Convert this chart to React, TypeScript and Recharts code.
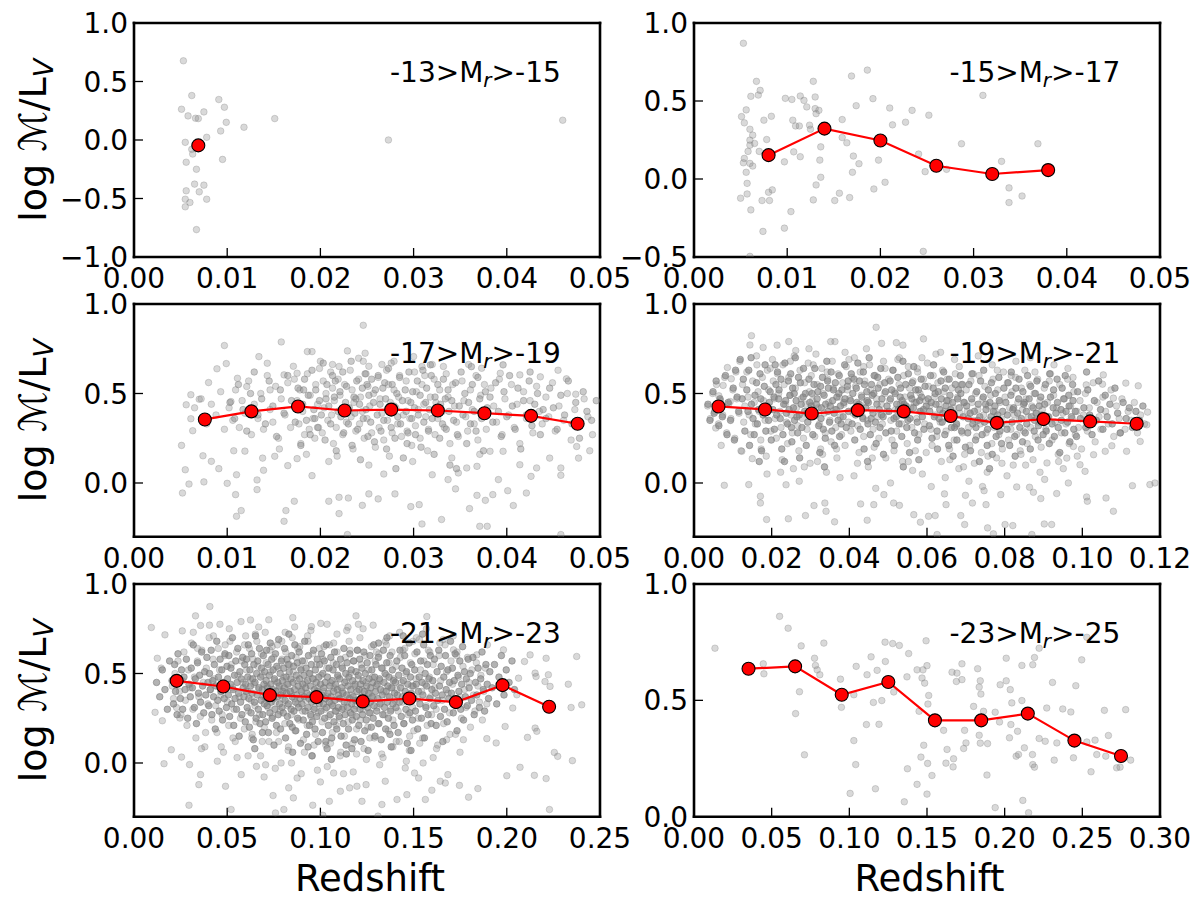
import React from 'react';
import { ScatterChart, Scatter, XAxis, YAxis } from 'recharts';

type Pt = [number, number];

const FONT = '"DejaVu Sans", Verdana, sans-serif';

// ---------- tick labels ----------
const xTicks05 = [0, 0.01, 0.02, 0.03, 0.04, 0.05];
const xTicks12 = [0, 0.02, 0.04, 0.06, 0.08, 0.1, 0.12];
const xTicks25 = [0, 0.05, 0.1, 0.15, 0.2, 0.25];
const xTicks30 = [0, 0.05, 0.1, 0.15, 0.2, 0.25, 0.3];
const yTicksA = [-1, -0.5, 0, 0.5, 1];
const yTicksB = [-0.5, 0, 0.5, 1];
const yTicksC = [0, 0.5, 1];

const panelLabels = ['-13>M|r|>-15', '-15>M|r|>-17', '-17>M|r|>-19', '-19>M|r|>-21', '-21>M|r|>-23', '-23>M|r|>-25'];

// ---------- median (red) values ----------
const tlMed: Pt[] = [[0.0069, -0.046]];
const trMed: Pt[] = [[0.008, 0.153], [0.014, 0.323], [0.02, 0.247], [0.026, 0.085], [0.032, 0.032], [0.038, 0.057]];
const mlMed: Pt[] = [[0.0076, 0.355], [0.0126, 0.4], [0.0176, 0.4275], [0.0226, 0.405], [0.0276, 0.41], [0.0326, 0.405], [0.0376, 0.39], [0.0426, 0.375], [0.0476, 0.331]];
const mrMed: Pt[] = [[0.0063, 0.4275], [0.0183, 0.411], [0.0303, 0.388], [0.0422, 0.407], [0.054, 0.4], [0.0661, 0.374], [0.078, 0.336], [0.09, 0.357], [0.102, 0.344], [0.114, 0.331]];
const blMed: Pt[] = [[0.0229, 0.459], [0.0479, 0.4275], [0.0729, 0.379], [0.0979, 0.368], [0.1227, 0.344], [0.1477, 0.36], [0.1727, 0.34], [0.1977, 0.435], [0.2227, 0.314]];
const brMed: Pt[] = [[0.0351, 0.636], [0.0651, 0.646], [0.0951, 0.524], [0.1251, 0.579], [0.1551, 0.414], [0.1849, 0.414], [0.2149, 0.443], [0.2449, 0.327], [0.2749, 0.261]];

// ---------- individual galaxies (grey) ----------
const tlGrey: Pt[] = [
  [0.0053, 0.677], [0.0062, 0.38], [0.0051, 0.263], [0.0058, 0.206], [0.0066, 0.186], [0.0069, 0.183], [0.0075, 0.24], [0.0091, 0.346],
  [0.0097, 0.28], [0.0099, 0.151], [0.0093, 0.077], [0.0078, 0.023], [0.0118, 0.109], [0.0151, 0.183], [0.0055, -0.02], [0.0062, -0.08],
  [0.0063, -0.12], [0.0056, -0.19], [0.0067, -0.25], [0.0095, -0.166], [0.0065, -0.377], [0.0075, -0.386], [0.007, -0.443], [0.0056, -0.434],
  [0.0055, -0.506], [0.006, -0.534], [0.0055, -0.571], [0.0078, -0.506], [0.0067, -0.766], [0.0273, 0.0], [0.046, 0.169],
];
const tlCore: Pt[] = [];

const trGrey: Pt[] = [
  [0.0053, 0.87], [0.0067, 0.626], [0.0071, 0.568], [0.0069, 0.538], [0.0061, 0.53], [0.0056, 0.443], [0.0051, 0.4], [0.0054, 0.36],
  [0.006, 0.319], [0.0063, 0.281], [0.006, 0.249], [0.006, 0.217], [0.0065, 0.228], [0.0058, 0.177], [0.007, 0.177], [0.0054, 0.132],
  [0.0053, 0.104], [0.006, 0.1], [0.0063, 0.083], [0.0056, 0.043], [0.0057, -0.028], [0.0057, -0.096], [0.005, -0.123], [0.0073, -0.138],
  [0.0081, -0.138], [0.008, -0.085], [0.0084, -0.07], [0.0061, -0.198], [0.0074, -0.336], [0.006, -0.496], [0.0075, 0.377], [0.0083, 0.402],
  [0.0078, 0.253], [0.0097, 0.11], [0.0098, 0.517], [0.0105, 0.51], [0.0106, 0.377], [0.0109, 0.34], [0.0113, 0.34], [0.0107, 0.174],
  [0.0114, 0.143], [0.0114, 0.532], [0.0118, 0.504], [0.0121, 0.462], [0.0128, 0.626], [0.013, 0.526], [0.013, 0.451], [0.0134, 0.44],
  [0.0124, 0.345], [0.0125, 0.319], [0.0131, 0.419], [0.0136, 0.206], [0.0135, 0.121], [0.0136, 0.011], [0.0131, -0.038], [0.0128, -0.134],
  [0.0104, -0.209], [0.0097, -0.315], [0.0151, -0.138], [0.0156, -0.091], [0.0167, -0.119], [0.017, 0.043], [0.0171, 0.147], [0.0177, 0.098],
  [0.0164, 0.232], [0.0159, 0.266], [0.0159, 0.381], [0.0169, 0.66], [0.0186, 0.698], [0.0174, 0.47], [0.0192, 0.515], [0.021, 0.455],
  [0.0213, 0.347], [0.0227, 0.364], [0.0234, 0.44], [0.0252, 0.409], [0.0198, 0.121], [0.0205, -0.021], [0.0193, -0.064], [0.0241, 0.16],
  [0.0248, 0.047], [0.0271, 0.062], [0.0287, 0.226], [0.031, 0.536], [0.033, 0.113], [0.0338, -0.057], [0.0338, -0.151], [0.0352, -0.109],
  [0.0369, 0.226], [0.0246, -0.464],
];
const trCore: Pt[] = [];

const mlGrey: Pt[] = [
  [0.0246, 0.881], [0.0158, 0.788], [0.0097, 0.768], [0.0099, 0.667], [0.0089, 0.638], [0.008, 0.561], [0.0061, 0.493], [0.0056, 0.437],
  [0.007, 0.468], [0.0061, 0.359], [0.0063, 0.292], [0.0051, 0.21], [0.0055, 0.074], [0.0059, -0.006], [0.0052, -0.056], [0.0074, 0.152],
  [0.0075, 0.006], [0.0083, 0.121], [0.0091, 0.08], [0.01, -0.002], [0.0109, -0.065], [0.0115, -0.154], [0.011, -0.186], [0.0107, 0.18],
  [0.011, 0.046], [0.0119, 0.178], [0.0132, -0.037], [0.0132, 0.017], [0.0139, 0.071], [0.0138, 0.139], [0.0151, 0.149], [0.0161, -0.214],
  [0.0163, -0.154], [0.0172, -0.102], [0.0165, 0.097], [0.0175, 0.136], [0.0191, 0.041], [0.0209, -0.102], [0.022, -0.08], [0.023, -0.084],
  [0.022, -0.171], [0.0229, -0.288], [0.0245, -0.125], [0.0252, -0.061], [0.0262, -0.089], [0.028, -0.061], [0.0297, -0.132], [0.0306, -0.121],
  [0.0309, -0.229], [0.033, -0.204], [0.036, -0.143], [0.0371, -0.242], [0.0379, -0.242], [0.0368, -0.069], [0.0377, -0.097], [0.0385, -0.065],
  [0.0407, -0.126], [0.0401, -0.043], [0.0421, -0.056], [0.0426, 0.037], [0.0458, 0.043], [0.0458, -0.288], [0.0458, 0.084], [0.0477, 0.139],
  [0.0489, 0.18], [0.0474, 0.496], [0.0464, 0.582], [0.0455, 0.63], [0.0436, 0.593], [0.0414, 0.604], [0.0475, 0.204], [0.0446, 0.139],
  [0.0432, 0.084], [0.0414, 0.102], [0.0391, 0.019], [0.0345, -0.033], [0.0337, 0.019], [0.032, 0.046], [0.0348, 0.056], [0.0357, 0.084],
  [0.0368, 0.093], [0.0382, 0.177], [0.0396, 0.177], [0.0186, 0.734], [0.0191, 0.734], [0.0229, 0.738], [0.0248, 0.725], [0.0241, 0.697],
  [0.02, 0.68], [0.0213, 0.662], [0.022, 0.651], [0.0252, 0.652], [0.0266, 0.662], [0.0279, 0.68], [0.03, 0.706], [0.0309, 0.651],
  [0.032, 0.662], [0.0332, 0.651], [0.0359, 0.662], [0.0373, 0.641], [0.0393, 0.613], [0.0134, 0.706], [0.0143, 0.669], [0.0161, 0.604],
  [0.0171, 0.652], [0.0175, 0.613], [0.0111, 0.585], [0.0121, 0.539], [0.0146, 0.52], [0.0104, 0.455],
  [0.0172, 0.58], [0.0178, 0.52], [0.0175, 0.46], [0.0181, 0.4], [0.0177, 0.33], [0.0183, 0.27], [0.0179, 0.22], [0.0186, 0.61],
  [0.0189, 0.49], [0.0192, 0.36], [0.0188, 0.3], [0.0195, 0.55], [0.0197, 0.44], [0.0194, 0.25], [0.0199, 0.64], [0.0185, 0.16], [0.0198, 0.31],
  [0.0203, 0.57], [0.0206, 0.5], [0.0204, 0.42], [0.0208, 0.35], [0.0202, 0.28], [0.0211, 0.62], [0.0213, 0.53], [0.0215, 0.46],
  [0.0212, 0.38], [0.0217, 0.31], [0.0214, 0.22], [0.0219, 0.58], [0.0221, 0.49], [0.0223, 0.41], [0.0218, 0.15], [0.0226, 0.55],
  [0.0228, 0.34], [0.0224, 0.27], [0.0209, 0.12], [0.0232, 0.63], [0.0234, 0.52], [0.0236, 0.45], [0.0233, 0.37], [0.0238, 0.29],
  [0.0235, 0.19], [0.0241, 0.58], [0.0243, 0.48], [0.0245, 0.4], [0.0242, 0.33], [0.0247, 0.25], [0.0249, 0.61], [0.0251, 0.54],
  [0.0253, 0.43], [0.025, 0.36], [0.0255, 0.28], [0.0252, 0.1], [0.0257, 0.5], [0.0259, 0.2], [0.0246, 0.68], [0.0262, 0.59],
  [0.0264, 0.47], [0.0266, 0.39], [0.0263, 0.31], [0.0268, 0.24], [0.0271, 0.63], [0.0273, 0.55], [0.0275, 0.45], [0.0272, 0.35],
  [0.0277, 0.28], [0.0274, 0.15], [0.0279, 0.52], [0.0281, 0.42], [0.0283, 0.33], [0.0285, 0.6], [0.0287, 0.26], [0.0284, 0.48],
  [0.0289, 0.38], [0.0276, 0.67], [0.0268, 0.05], [0.0292, 0.57], [0.0294, 0.46], [0.0296, 0.36], [0.0293, 0.29], [0.0298, 0.21],
  [0.0301, 0.62], [0.0303, 0.51], [0.0305, 0.41], [0.0302, 0.32], [0.0307, 0.25], [0.0309, 0.55], [0.0311, 0.44], [0.0313, 0.37],
  [0.0315, 0.18], [0.0312, 0.6], [0.0318, 0.48], [0.0316, 0.3], [0.0299, 0.12], [0.0322, 0.58], [0.0324, 0.45], [0.0326, 0.36],
  [0.0323, 0.27], [0.0328, 0.52], [0.0331, 0.4], [0.0333, 0.31], [0.0335, 0.61], [0.0337, 0.48], [0.0339, 0.22], [0.0342, 0.55],
  [0.0344, 0.43], [0.0346, 0.34], [0.0341, 0.14], [0.0348, 0.26], [0.0352, 0.57], [0.0354, 0.46], [0.0356, 0.37], [0.0358, 0.29],
  [0.0361, 0.52], [0.0363, 0.41], [0.0365, 0.33], [0.0367, 0.6], [0.0369, 0.24], [0.0372, 0.49], [0.0374, 0.38], [0.0376, 0.55],
  [0.0378, 0.3], [0.0371, 0.16], [0.0383, 0.53], [0.0386, 0.43], [0.0389, 0.34], [0.0392, 0.58], [0.0395, 0.27], [0.0398, 0.47],
  [0.0402, 0.38], [0.0405, 0.55], [0.0408, 0.31], [0.0411, 0.44], [0.0414, 0.22], [0.0418, 0.51], [0.0421, 0.36], [0.0425, 0.46],
  [0.0428, 0.28], [0.0432, 0.54], [0.0435, 0.4], [0.0438, 0.33], [0.0442, 0.48], [0.0445, 0.37], [0.0449, 0.56], [0.0452, 0.29],
  [0.0456, 0.43], [0.0461, 0.35], [0.0465, 0.5], [0.0469, 0.24], [0.0473, 0.41], [0.0478, 0.32], [0.0483, 0.47], [0.0487, 0.37],
  [0.0492, 0.27], [0.0102, 0.42], [0.0106, 0.35], [0.0109, 0.52], [0.0113, 0.31], [0.0116, 0.46], [0.0119, 0.39], [0.0123, 0.57],
  [0.0126, 0.27], [0.0129, 0.44], [0.0133, 0.36], [0.0136, 0.5], [0.0139, 0.3], [0.0143, 0.6], [0.0146, 0.41], [0.0149, 0.34],
  [0.0152, 0.54], [0.0155, 0.25], [0.0158, 0.47], [0.0162, 0.38], [0.0165, 0.56], [0.0168, 0.31], [0.0156, 0.19], [0.0065, 0.42],
  [0.0072, 0.47], [0.0078, 0.33], [0.0083, 0.44], [0.0088, 0.38], [0.0093, 0.51], [0.0097, 0.3],
];

const mlCore: Pt[] = [
  [0.0103, 0.45], [0.0108, 0.36], [0.0112, 0.55], [0.0117, 0.41], [0.0121, 0.29], [0.0125, 0.5], [0.0129, 0.62], [0.0133, 0.38],
  [0.0137, 0.47], [0.0141, 0.33], [0.0145, 0.57], [0.0149, 0.43], [0.0153, 0.26], [0.0157, 0.52], [0.0161, 0.39], [0.0165, 0.6],
  [0.0169, 0.46], [0.0173, 0.34], [0.0176, 0.53], [0.0179, 0.21], [0.0181, 0.44], [0.0183, 0.58], [0.0185, 0.35], [0.0187, 0.49],
  [0.0189, 0.27], [0.0191, 0.63], [0.0193, 0.41], [0.0195, 0.52], [0.0197, 0.31], [0.0199, 0.46], [0.0201, 0.38], [0.0203, 0.67],
  [0.0205, 0.24], [0.0207, 0.55], [0.0209, 0.43], [0.0211, 0.33], [0.0213, 0.6], [0.0215, 0.48], [0.0217, 0.18], [0.0219, 0.4],
  [0.0182, 0.52], [0.0194, 0.36], [0.0206, 0.47], [0.0216, 0.57], [0.0221, 0.51], [0.0222, 0.37], [0.0224, 0.62], [0.0225, 0.28],
  [0.0227, 0.45], [0.0228, 0.54], [0.023, 0.33], [0.0231, 0.42], [0.0233, 0.68], [0.0234, 0.21], [0.0236, 0.48], [0.0237, 0.39],
  [0.0239, 0.57], [0.024, 0.3], [0.0242, 0.44], [0.0243, 0.13], [0.0245, 0.53], [0.0246, 0.36], [0.0248, 0.61], [0.0249, 0.41],
  [0.0251, 0.26], [0.0252, 0.49], [0.0254, 0.34], [0.0255, 0.58], [0.0257, 0.45], [0.0258, 0.23], [0.0259, 0.52], [0.0226, 0.4],
  [0.0238, 0.47], [0.025, 0.55], [0.0261, 0.38], [0.0262, 0.6], [0.0264, 0.44], [0.0265, 0.29], [0.0267, 0.53], [0.0268, 0.35],
  [0.027, 0.47], [0.0271, 0.19], [0.0273, 0.64], [0.0274, 0.41], [0.0276, 0.31], [0.0277, 0.55], [0.0279, 0.43], [0.028, 0.25],
  [0.0282, 0.5], [0.0283, 0.37], [0.0285, 0.59], [0.0286, 0.33], [0.0288, 0.46], [0.0289, 0.14], [0.0291, 0.52], [0.0292, 0.4],
  [0.0294, 0.28], [0.0295, 0.62], [0.0297, 0.45], [0.0298, 0.36], [0.0299, 0.51], [0.0269, 0.56], [0.0281, 0.08], [0.0293, 0.22],
  [0.0301, 0.42], [0.0302, 0.27], [0.0304, 0.57], [0.0305, 0.38], [0.0307, 0.49], [0.0308, 0.2], [0.031, 0.63], [0.0311, 0.34],
  [0.0313, 0.45], [0.0314, 0.53], [0.0316, 0.29], [0.0317, 0.41], [0.0319, 0.6], [0.032, 0.36], [0.0322, 0.16], [0.0323, 0.48],
  [0.0325, 0.39], [0.0326, 0.55], [0.0328, 0.25], [0.0329, 0.44], [0.0331, 0.33], [0.0332, 0.58], [0.0334, 0.47], [0.0335, 0.3],
  [0.0337, 0.52], [0.0338, 0.4], [0.0339, 0.1], [0.0318, 0.66], [0.0341, 0.46], [0.0343, 0.35], [0.0345, 0.56], [0.0347, 0.27],
  [0.0349, 0.43], [0.0351, 0.62], [0.0353, 0.38], [0.0355, 0.5], [0.0357, 0.22], [0.0359, 0.45], [0.0361, 0.33], [0.0363, 0.55],
  [0.0365, 0.4], [0.0367, 0.29], [0.0369, 0.59], [0.0371, 0.47], [0.0373, 0.36], [0.0375, 0.18], [0.0377, 0.51], [0.0379, 0.42],
  [0.0346, 0.08], [0.0362, 0.65], [0.0382, 0.48], [0.0385, 0.34], [0.0388, 0.56], [0.0391, 0.4], [0.0394, 0.26], [0.0397, 0.51],
  [0.04, 0.37], [0.0403, 0.6], [0.0406, 0.43], [0.0409, 0.3], [0.0412, 0.53], [0.0415, 0.19], [0.0418, 0.46], [0.0421, 0.38],
  [0.0424, 0.57], [0.0427, 0.32], [0.043, 0.44], [0.0433, 0.5], [0.0436, 0.27], [0.0439, 0.41], [0.0396, 0.66], [0.0425, 0.62],
  [0.0442, 0.36], [0.0446, 0.53], [0.045, 0.42], [0.0454, 0.3], [0.0458, 0.49], [0.0462, 0.38], [0.0466, 0.57], [0.047, 0.33],
  [0.0474, 0.45], [0.0478, 0.25], [0.0482, 0.51], [0.0486, 0.4], [0.0491, 0.35], [0.0496, 0.46],
];

const mrGrey: Pt[] = [
  [0.0469, 0.87], [0.0148, 0.823], [0.0144, 0.771], [0.0178, 0.757], [0.0244, 0.79], [0.0363, 0.79], [0.0521, 0.784], [0.0591, 0.805],
  [0.0086, 0.645], [0.0096, 0.582], [0.0075, 0.545], [0.0064, 0.487], [0.0093, 0.455], [0.0056, 0.307], [0.007, 0.21], [0.0078, -0.013],
  [0.0141, -0.009], [0.0123, 0.177], [0.015, 0.136], [0.0171, -0.074], [0.0171, -0.112], [0.0187, -0.204], [0.0243, -0.2], [0.0287, -0.182],
  [0.0309, -0.126], [0.0337, -0.112], [0.0362, -0.217], [0.034, -0.158], [0.0429, -0.117], [0.0446, -0.208], [0.0463, -0.121], [0.0489, -0.065],
  [0.0514, -0.112], [0.0529, -0.125], [0.0566, -0.177], [0.0583, -0.219], [0.0604, -0.186], [0.0621, -0.182], [0.0626, -0.288], [0.0645, -0.061],
  [0.0649, -0.121], [0.0687, -0.182], [0.0697, -0.232], [0.0699, -0.069], [0.0717, -0.112], [0.0747, -0.043], [0.0752, -0.121], [0.0756, -0.251],
  [0.0771, -0.284], [0.0801, -0.232], [0.0821, -0.238], [0.079, -0.065], [0.0831, -0.022], [0.0864, -0.024], [0.0874, -0.052], [0.0893, -0.087],
  [0.0902, -0.229], [0.0921, -0.232], [0.087, -0.288], [0.0934, -0.059], [0.0964, 0.0], [0.1011, -0.078], [0.1013, -0.102], [0.1061, -0.084],
  [0.108, -0.158], [0.1129, -0.015], [0.1174, -0.009], [0.1187, 0.0], [0.1168, 0.396], [0.1144, 0.543], [0.1112, 0.558], [0.1054, 0.604],
  [0.1052, 0.552], [0.101, 0.548], [0.108, 0.474], [0.1097, 0.279], [0.1114, 0.177], [0.1059, 0.177], [0.1076, 0.208], [0.1166, 0.325],
  [0.1149, 0.232], [0.1007, 0.065], [0.0994, 0.102], [0.096, 0.139], [0.0909, 0.112], [0.0977, 0.204], [0.1029, 0.158],
  [0.0125, 0.55], [0.0131, 0.43], [0.0128, 0.34], [0.0136, 0.62], [0.0139, 0.48], [0.0142, 0.38], [0.0146, 0.27], [0.0151, 0.57],
  [0.0155, 0.45], [0.0158, 0.33], [0.0162, 0.66], [0.0165, 0.51], [0.0168, 0.4], [0.0172, 0.24], [0.0176, 0.59], [0.0179, 0.46],
  [0.0183, 0.35], [0.0186, 0.15], [0.0189, 0.63], [0.0192, 0.52], [0.0195, 0.41], [0.0198, 0.29], [0.0202, 0.69], [0.0204, 0.57],
  [0.0207, 0.47], [0.0209, 0.36], [0.0212, 0.25], [0.0215, 0.61], [0.0218, 0.5], [0.0221, 0.4], [0.0224, 0.31], [0.0227, 0.13],
  [0.0229, 0.66], [0.0232, 0.55], [0.0235, 0.44], [0.0238, 0.34], [0.0241, 0.22], [0.0244, 0.59], [0.0247, 0.49], [0.025, 0.38],
  [0.0253, 0.28], [0.0256, 0.08], [0.0258, 0.71], [0.0261, 0.53], [0.0264, 0.42], [0.0267, 0.32], [0.027, 0.18], [0.0273, 0.63],
  [0.0276, 0.47], [0.0279, 0.36], [0.0282, 0.25], [0.0285, 0.56], [0.0288, 0.44], [0.0291, 0.3], [0.0294, 0.67], [0.0297, 0.51],
  [0.0299, 0.11], [0.0302, 0.6], [0.0305, 0.46], [0.0308, 0.37], [0.0311, 0.26], [0.0314, 0.72], [0.0317, 0.55], [0.032, 0.42],
  [0.0323, 0.33], [0.0326, 0.19], [0.0329, 0.64], [0.0332, 0.5], [0.0335, 0.39], [0.0338, 0.28], [0.0341, 0.06], [0.0344, 0.58],
  [0.0347, 0.45], [0.035, 0.35], [0.0353, 0.23], [0.0356, 0.68], [0.0359, 0.53], [0.0362, 0.41], [0.0365, 0.31], [0.0368, 0.14],
  [0.0371, 0.61], [0.0374, 0.48], [0.0377, 0.37], [0.038, 0.27], [0.0383, 0.56], [0.0386, 0.44], [0.0389, 0.21], [0.0392, 0.65],
  [0.0395, 0.52], [0.0398, 0.34], [0.0401, 0.47], [0.0404, 0.29], [0.0407, 0.59], [0.041, 0.39], [0.0413, 0.7], [0.0416, 0.54],
  [0.0419, 0.43], [0.0422, 0.32], [0.0425, 0.17], [0.0428, 0.62], [0.0431, 0.49], [0.0434, 0.37], [0.0437, 0.26], [0.044, 0.57],
  [0.0443, 0.45], [0.0446, 0.35], [0.0449, 0.09], [0.0452, 0.66], [0.0455, 0.52], [0.0458, 0.41], [0.0461, 0.3], [0.0464, 0.2],
  [0.0467, 0.6], [0.047, 0.47], [0.0473, 0.37], [0.0476, 0.25], [0.0479, 0.55], [0.0482, 0.44], [0.0485, 0.33], [0.0488, 0.68],
  [0.0491, 0.5], [0.0494, 0.14], [0.0497, 0.4], [0.0501, 0.58], [0.0504, 0.46], [0.0507, 0.35], [0.051, 0.24], [0.0513, 0.63],
  [0.0516, 0.51], [0.0519, 0.41], [0.0522, 0.29], [0.0525, 0.69], [0.0528, 0.55], [0.0531, 0.44], [0.0534, 0.33], [0.0537, 0.12],
  [0.054, 0.6], [0.0543, 0.48], [0.0546, 0.38], [0.0549, 0.22], [0.0552, 0.65], [0.0555, 0.53], [0.0558, 0.42], [0.0561, 0.31],
  [0.0564, 0.57], [0.0567, 0.45], [0.057, 0.18], [0.0573, 0.36], [0.0576, 0.62], [0.0579, 0.27], [0.0582, 0.5], [0.0585, 0.4],
  [0.0588, 0.05], [0.0591, 0.58], [0.0594, 0.33], [0.0597, 0.46], [0.0601, 0.67], [0.0604, 0.54], [0.0607, 0.43], [0.061, 0.3],
  [0.0613, 0.21], [0.0616, 0.6], [0.0619, 0.48], [0.0622, 0.38], [0.0625, 0.26], [0.0628, 0.56], [0.0631, 0.44], [0.0634, 0.34],
  [0.0637, 0.12], [0.064, 0.63], [0.0643, 0.51], [0.0646, 0.4], [0.0649, 0.29], [0.0652, 0.58], [0.0655, 0.46], [0.0658, 0.19],
  [0.0661, 0.36], [0.0664, 0.53], [0.0667, 0.42], [0.067, 0.24], [0.0673, 0.61], [0.0676, 0.32], [0.0679, 0.48], [0.0682, 0.08],
  [0.0685, 0.39], [0.0688, 0.55], [0.0691, 0.28], [0.0694, 0.45], [0.0697, 0.16], [0.0701, 0.52], [0.0704, 0.4], [0.0707, 0.31],
  [0.071, 0.21], [0.0713, 0.57], [0.0716, 0.45], [0.0719, 0.35], [0.0722, 0.11], [0.0725, 0.5], [0.0728, 0.26], [0.0731, 0.41],
  [0.0734, 0.6], [0.0737, 0.33], [0.074, 0.17], [0.0743, 0.47], [0.0746, 0.38], [0.0749, 0.54], [0.0752, 0.28], [0.0755, 0.06],
  [0.0758, 0.43], [0.0761, 0.35], [0.0764, 0.49], [0.0767, 0.22], [0.077, 0.58], [0.0773, 0.31], [0.0776, 0.4], [0.0779, 0.14],
  [0.0782, 0.52], [0.0785, 0.27], [0.0788, 0.45], [0.0791, 0.36], [0.0794, 0.19], [0.0797, 0.62], [0.0801, 0.48], [0.0804, 0.33],
  [0.0807, 0.56], [0.081, 0.24], [0.0813, 0.42], [0.0816, 0.3], [0.0819, 0.51], [0.0822, 0.1], [0.0825, 0.38], [0.0828, 0.59],
  [0.0831, 0.27], [0.0834, 0.45], [0.0837, 0.35], [0.084, 0.18], [0.0843, 0.53], [0.0846, 0.41], [0.0849, 0.29], [0.0852, 0.63],
  [0.0855, 0.47], [0.0858, 0.22], [0.0861, 0.37], [0.0864, 0.55], [0.0867, 0.31], [0.087, 0.43], [0.0873, 0.13], [0.0876, 0.5],
  [0.0879, 0.26], [0.0882, 0.39], [0.0885, 0.58], [0.0888, 0.34], [0.0891, 0.46], [0.0894, 0.2], [0.0897, 0.41], [0.0902, 0.53],
  [0.0906, 0.3], [0.091, 0.45], [0.0914, 0.37], [0.0918, 0.61], [0.0922, 0.24], [0.0926, 0.49], [0.093, 0.34], [0.0934, 0.42],
  [0.0938, 0.16], [0.0942, 0.55], [0.0946, 0.28], [0.095, 0.39], [0.0954, 0.47], [0.0958, 0.33], [0.0962, 0.58], [0.0966, 0.22],
  [0.097, 0.43], [0.0974, 0.36], [0.0978, 0.51], [0.0982, 0.27], [0.0986, 0.4], [0.099, 0.31], [0.0994, 0.46], [0.0998, 0.19],
  [0.1003, 0.38], [0.1008, 0.5], [0.1013, 0.29], [0.1018, 0.42], [0.1023, 0.34], [0.1028, 0.56], [0.1033, 0.23], [0.1038, 0.45],
  [0.1043, 0.37], [0.1048, 0.3], [0.1053, 0.48], [0.106, 0.4], [0.1067, 0.33], [0.1074, 0.52], [0.1081, 0.26], [0.1088, 0.43],
  [0.1095, 0.36], [0.1102, 0.47], [0.111, 0.3], [0.1118, 0.4], [0.1126, 0.35], [0.1134, 0.45], [0.1142, 0.28], [0.115, 0.38],
  [0.116, 0.33], [0.0035, 0.43], [0.0042, 0.36], [0.0048, 0.5], [0.0053, 0.4], [0.0058, 0.55], [0.0063, 0.33], [0.0068, 0.46],
  [0.0074, 0.38], [0.0079, 0.59], [0.0084, 0.28], [0.0089, 0.44], [0.0095, 0.36], [0.01, 0.52], [0.0105, 0.25], [0.011, 0.47],
  [0.0116, 0.39], [0.0121, 0.18], [0.0108, 0.62], [0.0118, 0.68],
  [0.0161, 0.71], [0.0188, 0.05], [0.0214, 0.77], [0.0237, -0.01], [0.0262, 0.74], [0.0284, 0.09], [0.0307, 0.66], [0.0331, 0.16],
  [0.0352, 0.79], [0.0376, 0.03], [0.0399, 0.69], [0.0421, 0.11], [0.0444, 0.75], [0.0468, -0.03], [0.0492, 0.64], [0.0515, 0.18],
  [0.0538, 0.77], [0.0563, 0.07], [0.0587, 0.7], [0.0611, -0.02], [0.0635, 0.73], [0.0659, 0.13], [0.0683, 0.65], [0.0708, 0.01],
  [0.0732, 0.71], [0.0757, 0.15], [0.0781, 0.63], [0.0806, 0.04], [0.0829, 0.68], [0.0854, 0.1], [0.0878, 0.62], [0.0903, 0.02],
  [0.0927, 0.66], [0.0951, 0.08], [0.0976, 0.59], [0.0173, 0.19], [0.0196, 0.64], [0.0223, 0.06], [0.0248, 0.68], [0.0271, 0.01],
  [0.0296, 0.75], [0.0318, 0.12], [0.0343, 0.62], [0.0367, 0.19], [0.0389, 0.73], [0.0412, 0.04], [0.0437, 0.65], [0.0459, 0.14],
  [0.0483, 0.78], [0.0506, 0.0], [0.0529, 0.7], [0.0552, 0.12], [0.0575, 0.64], [0.0598, 0.17], [0.0623, 0.72], [0.0647, 0.03],
  [0.0671, 0.69], [0.0694, 0.09], [0.0719, 0.61], [0.0743, -0.02], [0.0768, 0.66], [0.0793, 0.11], [0.0817, 0.6], [0.0842, 0.16],
  [0.0866, 0.7], [0.0891, 0.06], [0.0915, 0.57], [0.0939, 0.12], [0.0963, 0.64], [0.0987, 0.15],
];

const mrCore: Pt[] = [
  [0.0124, 0.47], [0.0131, 0.29], [0.0127, 0.58], [0.0139, 0.4], [0.0136, 0.52], [0.0143, 0.21], [0.0148, 0.44], [0.0141, 0.63],
  [0.0152, 0.36], [0.0157, 0.49], [0.0155, 0.27], [0.0161, 0.56], [0.0166, 0.41], [0.0163, 0.33], [0.017, 0.61], [0.0174, 0.18],
  [0.0172, 0.47], [0.0178, 0.38], [0.0181, 0.54], [0.0185, 0.29], [0.0188, 0.43], [0.0183, 0.66], [0.0192, 0.35], [0.0196, 0.51],
  [0.0199, 0.24], [0.0194, 0.45], [0.0168, 0.12], [0.0147, 0.7],
  [0.0203, 0.41], [0.0211, 0.55], [0.0207, 0.3], [0.0218, 0.47], [0.0215, 0.62], [0.0222, 0.36], [0.0226, 0.19], [0.0219, 0.52],
  [0.0231, 0.44], [0.0234, 0.67], [0.0229, 0.27], [0.0238, 0.39], [0.0243, 0.57], [0.0241, 0.33], [0.0247, 0.49], [0.0252, 0.23],
  [0.0249, 0.61], [0.0256, 0.42], [0.0259, 0.35], [0.0254, 0.53], [0.0263, 0.46], [0.0267, 0.28], [0.0261, 0.7], [0.0271, 0.38],
  [0.0274, 0.56], [0.0278, 0.31], [0.0276, 0.44], [0.0282, 0.64], [0.0285, 0.4], [0.0289, 0.21], [0.0287, 0.5], [0.0293, 0.34],
  [0.0296, 0.58], [0.0298, 0.45], [0.0206, 0.48], [0.0213, 0.38], [0.0224, 0.58], [0.0236, 0.46], [0.0245, 0.41], [0.0251, 0.31],
  [0.0258, 0.5], [0.0265, 0.37], [0.0269, 0.59], [0.0281, 0.48], [0.0291, 0.39], [0.0233, 0.12], [0.0272, 0.14], [0.0209, 0.66],
  [0.0302, 0.43], [0.0306, 0.27], [0.0309, 0.55], [0.0313, 0.38], [0.0311, 0.64], [0.0317, 0.47], [0.0321, 0.32], [0.0319, 0.51],
  [0.0324, 0.17], [0.0328, 0.42], [0.0331, 0.59], [0.0327, 0.36], [0.0335, 0.49], [0.0338, 0.25], [0.0342, 0.68], [0.0339, 0.44],
  [0.0346, 0.53], [0.0349, 0.34], [0.0345, 0.4], [0.0353, 0.62], [0.0357, 0.46], [0.0355, 0.29], [0.0361, 0.39], [0.0364, 0.56],
  [0.0362, 0.21], [0.0368, 0.48], [0.0371, 0.35], [0.0374, 0.6], [0.0377, 0.43], [0.0375, 0.26], [0.0381, 0.52], [0.0384, 0.37],
  [0.0388, 0.66], [0.0386, 0.45], [0.0392, 0.31], [0.0395, 0.54], [0.0398, 0.4], [0.0304, 0.5], [0.0315, 0.44], [0.0326, 0.54],
  [0.0333, 0.3], [0.0344, 0.57], [0.0351, 0.43], [0.0359, 0.52], [0.0366, 0.41], [0.0373, 0.5], [0.0379, 0.33], [0.0389, 0.47],
  [0.0397, 0.57], [0.0336, 0.09],
  [0.0403, 0.46], [0.0407, 0.33], [0.0405, 0.61], [0.0411, 0.41], [0.0414, 0.24], [0.0418, 0.53], [0.0416, 0.38], [0.0422, 0.67],
  [0.0425, 0.44], [0.0428, 0.3], [0.0426, 0.57], [0.0432, 0.48], [0.0435, 0.36], [0.0438, 0.19], [0.0436, 0.62], [0.0442, 0.42],
  [0.0445, 0.51], [0.0448, 0.33], [0.0451, 0.7], [0.0449, 0.45], [0.0454, 0.27], [0.0457, 0.55], [0.0461, 0.39], [0.0459, 0.49],
  [0.0464, 0.6], [0.0467, 0.34], [0.0471, 0.44], [0.0469, 0.22], [0.0474, 0.53], [0.0477, 0.41], [0.0481, 0.64], [0.0479, 0.31],
  [0.0484, 0.47], [0.0487, 0.37], [0.0491, 0.56], [0.0494, 0.28], [0.0497, 0.43], [0.0409, 0.5], [0.0419, 0.45], [0.0429, 0.4],
  [0.0439, 0.55], [0.0446, 0.46], [0.0456, 0.36], [0.0463, 0.5], [0.0473, 0.59], [0.0483, 0.38], [0.0493, 0.51], [0.0447, 0.12],
  [0.0488, 0.16], [0.0412, 0.58],
  [0.0502, 0.4], [0.0505, 0.57], [0.0508, 0.29], [0.0506, 0.47], [0.0512, 0.63], [0.0515, 0.36], [0.0518, 0.5], [0.0516, 0.21],
  [0.0522, 0.44], [0.0525, 0.59], [0.0528, 0.33], [0.0526, 0.41], [0.0532, 0.53], [0.0535, 0.26], [0.0538, 0.68], [0.0536, 0.46],
  [0.0542, 0.38], [0.0545, 0.55], [0.0548, 0.31], [0.0546, 0.43], [0.0552, 0.61], [0.0555, 0.17], [0.0558, 0.49], [0.0556, 0.36],
  [0.0562, 0.56], [0.0565, 0.42], [0.0568, 0.28], [0.0566, 0.65], [0.0572, 0.45], [0.0575, 0.34], [0.0578, 0.52], [0.0576, 0.24],
  [0.0582, 0.4], [0.0585, 0.58], [0.0588, 0.37], [0.0586, 0.48], [0.0592, 0.3], [0.0595, 0.54], [0.0598, 0.43], [0.0509, 0.52],
  [0.0521, 0.37], [0.0531, 0.48], [0.0541, 0.44], [0.0551, 0.35], [0.0561, 0.47], [0.0571, 0.52], [0.0581, 0.46], [0.0591, 0.41],
  [0.0539, 0.09], [0.0579, 0.13],
  [0.0603, 0.47], [0.0606, 0.32], [0.0609, 0.6], [0.0607, 0.4], [0.0613, 0.25], [0.0616, 0.53], [0.0619, 0.37], [0.0617, 0.66],
  [0.0623, 0.44], [0.0626, 0.29], [0.0629, 0.51], [0.0627, 0.19], [0.0633, 0.41], [0.0636, 0.57], [0.0639, 0.34], [0.0637, 0.47],
  [0.0643, 0.62], [0.0646, 0.27], [0.0649, 0.43], [0.0647, 0.53], [0.0653, 0.36], [0.0656, 0.21], [0.0659, 0.49], [0.0657, 0.58],
  [0.0663, 0.31], [0.0666, 0.45], [0.0669, 0.39], [0.0667, 0.15], [0.0673, 0.55], [0.0676, 0.33], [0.0679, 0.47], [0.0677, 0.24],
  [0.0683, 0.42], [0.0686, 0.6], [0.0689, 0.29], [0.0687, 0.5], [0.0693, 0.37], [0.0696, 0.45], [0.0699, 0.2], [0.0611, 0.45],
  [0.0621, 0.5], [0.0631, 0.36], [0.0641, 0.39], [0.0651, 0.46], [0.0661, 0.41], [0.0671, 0.31], [0.0681, 0.52], [0.0691, 0.55],
  [0.0702, 0.43], [0.0705, 0.28], [0.0708, 0.55], [0.0706, 0.36], [0.0712, 0.18], [0.0715, 0.47], [0.0718, 0.33], [0.0716, 0.61],
  [0.0722, 0.4], [0.0725, 0.24], [0.0728, 0.51], [0.0726, 0.31], [0.0732, 0.44], [0.0735, 0.12], [0.0738, 0.57], [0.0736, 0.37],
  [0.0742, 0.27], [0.0745, 0.48], [0.0748, 0.34], [0.0746, 0.63], [0.0752, 0.41], [0.0755, 0.21], [0.0758, 0.52], [0.0756, 0.3],
  [0.0762, 0.45], [0.0765, 0.37], [0.0768, 0.16], [0.0766, 0.56], [0.0772, 0.33], [0.0775, 0.43], [0.0778, 0.26], [0.0776, 0.5],
  [0.0782, 0.38], [0.0785, 0.59], [0.0788, 0.29], [0.0786, 0.46], [0.0792, 0.22], [0.0795, 0.4], [0.0798, 0.53], [0.0711, 0.39],
  [0.0731, 0.35], [0.0751, 0.44], [0.0771, 0.4], [0.0791, 0.33], [0.0761, 0.08],
  [0.0803, 0.45], [0.0806, 0.3], [0.0809, 0.56], [0.0807, 0.38], [0.0813, 0.21], [0.0816, 0.49], [0.0819, 0.34], [0.0817, 0.62],
  [0.0823, 0.42], [0.0826, 0.26], [0.0829, 0.53], [0.0827, 0.15], [0.0833, 0.39], [0.0836, 0.47], [0.0839, 0.31], [0.0837, 0.58],
  [0.0843, 0.36], [0.0846, 0.23], [0.0849, 0.44], [0.0847, 0.51], [0.0853, 0.28], [0.0856, 0.4], [0.0859, 0.6], [0.0857, 0.33],
  [0.0863, 0.47], [0.0866, 0.19], [0.0869, 0.37], [0.0867, 0.54], [0.0873, 0.42], [0.0876, 0.29], [0.0879, 0.5], [0.0877, 0.35],
  [0.0883, 0.57], [0.0886, 0.24], [0.0889, 0.43], [0.0887, 0.32], [0.0893, 0.48], [0.0896, 0.38], [0.0899, 0.27], [0.0821, 0.41],
  [0.0851, 0.45], [0.0881, 0.39],
  [0.0903, 0.44], [0.0907, 0.29], [0.0905, 0.55], [0.0912, 0.37], [0.0915, 0.22], [0.0918, 0.48], [0.0916, 0.61], [0.0922, 0.33],
  [0.0925, 0.42], [0.0928, 0.26], [0.0926, 0.52], [0.0932, 0.39], [0.0935, 0.58], [0.0938, 0.31], [0.0936, 0.45], [0.0942, 0.17],
  [0.0945, 0.41], [0.0948, 0.53], [0.0946, 0.35], [0.0952, 0.47], [0.0955, 0.28], [0.0958, 0.4], [0.0956, 0.6], [0.0962, 0.34],
  [0.0965, 0.49], [0.0968, 0.23], [0.0966, 0.43], [0.0972, 0.37], [0.0975, 0.55], [0.0978, 0.3], [0.0976, 0.46], [0.0982, 0.4],
  [0.0985, 0.26], [0.0988, 0.51], [0.0995, 0.36],
  [0.1004, 0.42], [0.1009, 0.31], [0.1014, 0.52], [0.1019, 0.38], [0.1025, 0.27], [0.1031, 0.46], [0.1036, 0.35], [0.1042, 0.57],
  [0.1047, 0.41], [0.1053, 0.3], [0.1059, 0.49], [0.1064, 0.37], [0.1071, 0.44], [0.1077, 0.33], [0.1084, 0.53], [0.1091, 0.39],
  [0.1098, 0.28], [0.1105, 0.45], [0.1113, 0.36], [0.1121, 0.42], [0.1129, 0.31], [0.1138, 0.4], [0.1147, 0.35], [0.1156, 0.43],
  [0.1011, 0.62],
  [0.0036, 0.44], [0.0041, 0.35], [0.0049, 0.51], [0.0052, 0.39], [0.0057, 0.57], [0.0064, 0.32], [0.0067, 0.47], [0.0073, 0.37],
  [0.0081, 0.6], [0.0085, 0.27], [0.0088, 0.45], [0.0094, 0.35], [0.0101, 0.53], [0.0104, 0.24], [0.0111, 0.48], [0.0115, 0.4],
  [0.0107, 0.63], [0.0119, 0.69],
];

const blGrey: Pt[] = [
  [0.0093, 0.757], [0.0166, 0.716], [0.0259, 0.738], [0.0407, 0.874], [0.033, 0.822], [0.0357, 0.768], [0.0461, 0.775], [0.0625, 0.799],
  [0.0852, 0.812], [0.0952, 0.762], [0.1036, 0.775], [0.1191, 0.822], [0.1204, 0.775], [0.1148, 0.758], [0.1571, 0.818], [0.0125, 0.585],
  [0.0146, 0.53], [0.0113, 0.283], [0.0152, 0.236], [0.0246, 0.251], [0.02, 0.074], [0.0161, -0.004], [0.0255, 0.033], [0.0298, -0.009],
  [0.0357, -0.065], [0.0348, -0.121], [0.0295, -0.236], [0.0491, -0.13], [0.0521, -0.26], [0.0575, -0.065], [0.0657, -0.019], [0.0698, -0.078],
  [0.0746, -0.182], [0.0759, -0.279], [0.0804, -0.26], [0.0855, -0.195], [0.083, -0.139], [0.0875, -0.084], [0.0959, -0.236], [0.1, -0.106],
  [0.1048, -0.214], [0.1013, -0.292], [0.1071, -0.056], [0.1107, -0.158], [0.1157, -0.139], [0.1196, -0.13], [0.1223, -0.214], [0.1245, -0.121],
  [0.1309, -0.297], [0.133, -0.232], [0.1348, -0.102], [0.1411, -0.204], [0.1455, -0.028], [0.1464, -0.177], [0.1505, -0.056], [0.1527, -0.084],
  [0.1563, -0.204], [0.1598, -0.152], [0.1643, -0.102], [0.167, -0.112], [0.1684, -0.065], [0.1746, -0.125], [0.1795, -0.191], [0.1845, -0.143],
  [0.2, -0.071], [0.2071, -0.024], [0.2148, -0.069], [0.2211, -0.087], [0.2229, -0.26], [0.2273, 0.037], [0.2255, 0.059], [0.2352, 0.013],
  [0.2111, 0.143], [0.2152, 0.195], [0.2161, 0.177], [0.2402, 0.325], [0.2345, 0.31], [0.233, 0.44], [0.2375, 0.595], [0.2211, 0.585],
  [0.2223, 0.493], [0.2232, 0.428], [0.2205, 0.455], [0.2152, 0.502], [0.2157, 0.483], [0.2095, 0.567], [0.2125, 0.604], [0.2063, 0.474],
  [0.2054, 0.381], [0.2032, 0.307], [0.1991, 0.204], [0.1943, 0.112], [0.1893, 0.136], [0.1982, 0.632], [0.1896, 0.66], [0.1839, 0.604],
  [0.1714, 0.632],
  [0.0205, 0.43], [0.0212, 0.36], [0.022, 0.5], [0.0228, 0.31], [0.0236, 0.57], [0.0244, 0.4], [0.0252, 0.27], [0.026, 0.46],
  [0.0268, 0.62], [0.0276, 0.35], [0.0284, 0.21], [0.0292, 0.52], [0.03, 0.42], [0.0308, 0.67], [0.0316, 0.3], [0.0324, 0.48],
  [0.0332, 0.14], [0.034, 0.57], [0.0348, 0.37], [0.0356, 0.26], [0.0364, 0.63], [0.0372, 0.45], [0.038, 0.09], [0.0388, 0.53],
  [0.0396, 0.33], [0.0403, 0.7], [0.041, 0.41], [0.0417, 0.24], [0.0424, 0.58], [0.0431, 0.47], [0.0438, 0.32], [0.0445, 0.17],
  [0.0452, 0.64], [0.0459, 0.52], [0.0466, 0.38], [0.0473, 0.27], [0.048, 0.06], [0.0487, 0.6], [0.0494, 0.44], [0.0501, 0.34],
  [0.0508, 0.21], [0.0515, 0.68], [0.0522, 0.55], [0.0529, 0.42], [0.0536, 0.3], [0.0543, 0.12], [0.055, 0.62], [0.0557, 0.49],
  [0.0564, 0.37], [0.0571, 0.25], [0.0578, 0.57], [0.0585, 0.45], [0.0592, 0.19], [0.0599, 0.71], [0.0604, 0.52], [0.0609, 0.4],
  [0.0614, 0.29], [0.0619, 0.64], [0.0624, 0.47], [0.0629, 0.35], [0.0634, 0.16], [0.0639, 0.58], [0.0644, 0.44], [0.0649, 0.32],
  [0.0654, 0.23], [0.0659, 0.68], [0.0664, 0.54], [0.0669, 0.41], [0.0674, 0.27], [0.0679, 0.04], [0.0684, 0.61], [0.0689, 0.49],
  [0.0694, 0.37], [0.0699, 0.2], [0.0704, 0.73], [0.0709, 0.56], [0.0714, 0.43], [0.0719, 0.31], [0.0724, 0.12], [0.0729, 0.63],
  [0.0734, 0.51], [0.0739, 0.39], [0.0744, 0.26], [0.0749, 0.59], [0.0754, 0.46], [0.0759, 0.34], [0.0764, 0.17], [0.0769, 0.66],
  [0.0774, 0.53], [0.0779, 0.41], [0.0784, 0.29], [0.0789, 0.0], [0.0794, 0.58], [0.0799, 0.36], [0.0804, 0.48], [0.0809, 0.22],
  [0.0814, 0.62], [0.0819, 0.44], [0.0824, 0.32], [0.0829, 0.09], [0.0834, 0.55], [0.0839, 0.4], [0.0844, 0.27], [0.0849, 0.7],
  [0.0854, 0.51], [0.0859, 0.36], [0.0864, 0.18], [0.0869, 0.59], [0.0874, 0.46], [0.0879, 0.33], [0.0884, 0.24], [0.0889, 0.65],
  [0.0894, 0.53], [0.0899, 0.41], [0.0904, 0.29], [0.0909, 0.13], [0.0914, 0.57], [0.0919, 0.45], [0.0924, 0.35], [0.0929, 0.21],
  [0.0934, 0.68], [0.0939, 0.5], [0.0944, 0.38], [0.0949, 0.26], [0.0954, 0.04], [0.0959, 0.61], [0.0964, 0.47], [0.0969, 0.31],
  [0.0974, 0.16], [0.0979, 0.55], [0.0984, 0.42], [0.0989, 0.28], [0.0994, 0.64], [0.0999, 0.35], [0.1004, 0.49], [0.1009, 0.23],
  [0.1014, 0.58], [0.1019, 0.4], [0.1024, 0.3], [0.1029, 0.1], [0.1034, 0.53], [0.1039, 0.37], [0.1044, 0.26], [0.1049, 0.66],
  [0.1054, 0.45], [0.1059, 0.33], [0.1064, 0.17], [0.1069, 0.56], [0.1074, 0.42], [0.1079, 0.29], [0.1084, 0.21], [0.1089, 0.62],
  [0.1094, 0.48], [0.1099, 0.36], [0.1104, 0.25], [0.1109, 0.06], [0.1114, 0.54], [0.1119, 0.4], [0.1124, 0.31], [0.1129, 0.15],
  [0.1134, 0.59], [0.1139, 0.46], [0.1144, 0.34], [0.1149, 0.23], [0.1154, 0.68], [0.1159, 0.5], [0.1164, 0.38], [0.1169, 0.27],
  [0.1174, 0.11], [0.1179, 0.57], [0.1184, 0.43], [0.1189, 0.32], [0.1194, 0.19], [0.1199, 0.63], [0.1204, 0.47], [0.1209, 0.35],
  [0.1214, 0.24], [0.1219, 0.55], [0.1224, 0.41], [0.1229, 0.3], [0.1234, 0.08], [0.1239, 0.6], [0.1244, 0.45], [0.1249, 0.33],
  [0.1254, 0.2], [0.1259, 0.52], [0.1264, 0.39], [0.1269, 0.28], [0.1274, 0.65], [0.1279, 0.48], [0.1284, 0.36], [0.1289, 0.14],
  [0.1294, 0.57], [0.1299, 0.43], [0.1304, 0.31], [0.1309, 0.22], [0.1314, 0.61], [0.1319, 0.46], [0.1324, 0.34], [0.1329, 0.05],
  [0.1334, 0.53], [0.1339, 0.4], [0.1344, 0.27], [0.1349, 0.68], [0.1354, 0.49], [0.1359, 0.37], [0.1364, 0.18], [0.1369, 0.56],
  [0.1374, 0.42], [0.1379, 0.3], [0.1384, 0.62], [0.1389, 0.24], [0.1394, 0.47], [0.1399, 0.35], [0.1405, 0.54], [0.1411, 0.41],
  [0.1417, 0.29], [0.1423, 0.12], [0.1429, 0.59], [0.1435, 0.45], [0.1441, 0.34], [0.1447, 0.22], [0.1453, 0.64], [0.1459, 0.5],
  [0.1465, 0.38], [0.1471, 0.27], [0.1477, 0.07], [0.1483, 0.56], [0.1489, 0.43], [0.1495, 0.31], [0.1501, 0.18], [0.1507, 0.61],
  [0.1513, 0.47], [0.1519, 0.36], [0.1525, 0.25], [0.1531, 0.69], [0.1537, 0.52], [0.1543, 0.4], [0.1549, 0.14], [0.1555, 0.57],
  [0.1561, 0.44], [0.1567, 0.32], [0.1573, 0.21], [0.1579, 0.63], [0.1585, 0.48], [0.1591, 0.37], [0.1597, 0.27], [0.1605, 0.55],
  [0.1613, 0.42], [0.1621, 0.3], [0.1629, 0.1], [0.1637, 0.6], [0.1645, 0.46], [0.1653, 0.35], [0.1661, 0.22], [0.1669, 0.66],
  [0.1677, 0.51], [0.1685, 0.39], [0.1693, 0.28], [0.1701, 0.57], [0.1709, 0.44], [0.1717, 0.33], [0.1725, 0.16], [0.1733, 0.62],
  [0.1741, 0.48], [0.1749, 0.37], [0.1757, 0.25], [0.1765, 0.54], [0.1773, 0.41], [0.1781, 0.31], [0.1789, 0.59], [0.1797, 0.45],
  [0.1805, 0.2], [0.1813, 0.52], [0.1821, 0.38], [0.1829, 0.29], [0.1837, 0.56], [0.1845, 0.43], [0.1853, 0.34], [0.1861, 0.49],
  [0.1869, 0.24], [0.1877, 0.4], [0.1885, 0.53], [0.1893, 0.33],
  [0.0318, 0.73], [0.0362, 0.08], [0.0405, 0.77], [0.0447, 0.01], [0.0489, 0.66], [0.0531, 0.14], [0.0574, 0.79], [0.0612, 0.04],
  [0.0651, 0.72], [0.0688, 0.12], [0.0723, 0.8], [0.0758, -0.03], [0.0793, 0.68], [0.0827, 0.07], [0.0862, 0.76], [0.0897, -0.06],
  [0.0931, 0.71], [0.0966, 0.1], [0.1002, 0.78], [0.1037, -0.02], [0.1071, 0.67], [0.1106, 0.04], [0.1141, 0.74], [0.1176, -0.05],
  [0.1212, 0.7], [0.1247, 0.02], [0.1283, 0.77], [0.1318, -0.01], [0.1354, 0.66], [0.1389, 0.09], [0.1425, 0.73], [0.1461, 0.01],
  [0.1497, 0.68], [0.1533, 0.11], [0.1569, 0.75], [0.1605, 0.03], [0.1641, 0.67], [0.1677, 0.13], [0.1713, 0.71], [0.1749, 0.06],
  [0.0341, 0.64], [0.0384, 0.17], [0.0426, 0.71], [0.0468, 0.09], [0.0511, 0.75], [0.0553, 0.03], [0.0593, 0.66], [0.0632, 0.14],
  [0.0669, 0.76], [0.0706, -0.01], [0.0741, 0.65], [0.0776, 0.12], [0.0811, 0.73], [0.0845, 0.0], [0.0879, 0.64], [0.0914, 0.06],
  [0.0949, 0.74], [0.0984, -0.04], [0.1019, 0.65], [0.1054, 0.11], [0.1089, 0.72], [0.1124, -0.06], [0.1159, 0.63], [0.1194, 0.05],
  [0.1229, 0.75], [0.1265, 0.14], [0.1301, 0.62], [0.1336, 0.03], [0.1371, 0.71], [0.1407, 0.12], [0.1443, 0.63], [0.1479, 0.15],
  [0.1515, 0.7], [0.1551, 0.0], [0.1587, 0.62], [0.1623, 0.08], [0.1659, 0.69], [0.1695, 0.16], [0.1731, 0.6], [0.1767, 0.13],
];

const blCore: Pt[] = [
  [0.0204, 0.46], [0.0212, 0.33], [0.0218, 0.55], [0.0223, 0.4], [0.0231, 0.27], [0.0236, 0.61], [0.0242, 0.45], [0.0249, 0.36],
  [0.0255, 0.52], [0.0261, 0.3], [0.0268, 0.48], [0.0274, 0.41], [0.0281, 0.58], [0.0288, 0.25], [0.0295, 0.44],
  [0.0302, 0.37], [0.0307, 0.53], [0.0313, 0.42], [0.0318, 0.66], [0.0324, 0.31], [0.0329, 0.47], [0.0335, 0.22], [0.0341, 0.56],
  [0.0346, 0.39], [0.0352, 0.49], [0.0357, 0.34], [0.0363, 0.62], [0.0368, 0.43], [0.0374, 0.28], [0.0379, 0.51], [0.0385, 0.38],
  [0.0391, 0.59], [0.0397, 0.45],
  [0.0401, 0.32], [0.0405, 0.5], [0.0409, 0.41], [0.0414, 0.63], [0.0418, 0.27], [0.0422, 0.46], [0.0427, 0.37], [0.0431, 0.55],
  [0.0436, 0.19], [0.044, 0.43], [0.0444, 0.68], [0.0449, 0.35], [0.0453, 0.48], [0.0457, 0.29], [0.0462, 0.58], [0.0466, 0.4],
  [0.0471, 0.52], [0.0475, 0.24], [0.0479, 0.45], [0.0484, 0.36], [0.0488, 0.61], [0.0492, 0.42], [0.0496, 0.31], [0.0499, 0.54],
  [0.0502, 0.47], [0.0506, 0.38], [0.0509, 0.6], [0.0513, 0.26], [0.0517, 0.44], [0.052, 0.53], [0.0524, 0.33], [0.0528, 0.7],
  [0.0531, 0.41], [0.0535, 0.21], [0.0539, 0.49], [0.0542, 0.36], [0.0546, 0.57], [0.055, 0.3], [0.0553, 0.45], [0.0557, 0.64],
  [0.0561, 0.39], [0.0564, 0.15], [0.0568, 0.51], [0.0572, 0.34], [0.0575, 0.47], [0.0579, 0.27], [0.0583, 0.59], [0.0586, 0.42],
  [0.059, 0.37], [0.0594, 0.55], [0.0597, 0.23], [0.0599, 0.44],
  [0.0601, 0.4], [0.0604, 0.58], [0.0607, 0.31], [0.061, 0.48], [0.0613, 0.66], [0.0616, 0.36], [0.0619, 0.2], [0.0622, 0.52],
  [0.0625, 0.43], [0.0628, 0.28], [0.0631, 0.61], [0.0634, 0.39], [0.0637, 0.47], [0.064, 0.13], [0.0643, 0.55], [0.0646, 0.34],
  [0.0649, 0.45], [0.0652, 0.71], [0.0655, 0.25], [0.0658, 0.5], [0.0661, 0.38], [0.0664, 0.57], [0.0667, 0.3], [0.067, 0.42],
  [0.0673, 0.64], [0.0676, 0.22], [0.0679, 0.48], [0.0682, 0.35], [0.0685, 0.53], [0.0688, 0.41], [0.0691, 0.27], [0.0694, 0.6],
  [0.0697, 0.44], [0.0699, 0.33], [0.0648, 0.08], [0.0689, 0.17],
  [0.0701, 0.51], [0.0703, 0.37], [0.0706, 0.23], [0.0709, 0.46], [0.0711, 0.63], [0.0714, 0.32], [0.0716, 0.42], [0.0719, 0.55],
  [0.0721, 0.17], [0.0724, 0.39], [0.0726, 0.49], [0.0729, 0.28], [0.0731, 0.67], [0.0734, 0.44], [0.0736, 0.34], [0.0739, 0.58],
  [0.0741, 0.25], [0.0744, 0.41], [0.0746, 0.52], [0.0749, 0.36], [0.0751, 0.1], [0.0754, 0.47], [0.0756, 0.3], [0.0759, 0.61],
  [0.0761, 0.4], [0.0764, 0.21], [0.0766, 0.54], [0.0769, 0.37], [0.0771, 0.45], [0.0774, 0.27], [0.0776, 0.69], [0.0779, 0.43],
  [0.0781, 0.33], [0.0784, 0.5], [0.0786, 0.19], [0.0789, 0.38], [0.0791, 0.57], [0.0794, 0.31], [0.0796, 0.46], [0.0799, 0.4],
  [0.0801, 0.28], [0.0803, 0.53], [0.0806, 0.42], [0.0808, 0.64], [0.0811, 0.35], [0.0813, 0.14], [0.0816, 0.48], [0.0818, 0.39],
  [0.0821, 0.58], [0.0823, 0.26], [0.0826, 0.44], [0.0828, 0.33], [0.0831, 0.72], [0.0833, 0.51], [0.0836, 0.22], [0.0838, 0.4],
  [0.0841, 0.47], [0.0843, 0.3], [0.0846, 0.6], [0.0848, 0.37], [0.0851, 0.06], [0.0853, 0.45], [0.0856, 0.54], [0.0858, 0.29],
  [0.0861, 0.41], [0.0863, 0.66], [0.0866, 0.34], [0.0868, 0.18], [0.0871, 0.49], [0.0873, 0.38], [0.0876, 0.56], [0.0878, 0.25],
  [0.0881, 0.43], [0.0883, 0.31], [0.0886, 0.62], [0.0888, 0.47], [0.0891, 0.36], [0.0893, 0.11], [0.0896, 0.52], [0.0898, 0.4],
  [0.0849, 0.2], [0.0827, 0.55],
  [0.0901, 0.33], [0.0903, 0.57], [0.0906, 0.44], [0.0908, 0.24], [0.0911, 0.49], [0.0913, 0.37], [0.0916, 0.68], [0.0918, 0.29],
  [0.0921, 0.42], [0.0923, 0.53], [0.0926, 0.16], [0.0928, 0.39], [0.0931, 0.46], [0.0933, 0.31], [0.0936, 0.6], [0.0938, 0.36],
  [0.0941, 0.21], [0.0943, 0.5], [0.0946, 0.43], [0.0948, 0.27], [0.0951, 0.55], [0.0953, 0.34], [0.0956, 0.04], [0.0958, 0.47],
  [0.0961, 0.38], [0.0963, 0.63], [0.0966, 0.3], [0.0968, 0.41], [0.0971, 0.19], [0.0973, 0.52], [0.0976, 0.35], [0.0978, 0.45],
  [0.0981, 0.26], [0.0983, 0.58], [0.0986, 0.4], [0.0988, 0.12], [0.0991, 0.48], [0.0993, 0.33], [0.0996, 0.55], [0.0998, 0.37],
  [0.0957, 0.23], [0.0934, 0.09],
  [0.1001, 0.44], [0.1003, 0.29], [0.1006, 0.61], [0.1008, 0.38], [0.1011, 0.17], [0.1013, 0.5], [0.1016, 0.33], [0.1018, 0.42],
  [0.1021, 0.57], [0.1023, 0.25], [0.1026, 0.45], [0.1028, 0.36], [0.1031, 0.66], [0.1033, 0.31], [0.1036, 0.08], [0.1038, 0.48],
  [0.1041, 0.39], [0.1043, 0.21], [0.1046, 0.53], [0.1048, 0.34], [0.1051, 0.43], [0.1053, 0.27], [0.1056, 0.59], [0.1058, 0.37],
  [0.1061, 0.14], [0.1063, 0.46], [0.1066, 0.32], [0.1068, 0.52], [0.1071, 0.4], [0.1073, 0.23], [0.1076, 0.62], [0.1078, 0.35],
  [0.1081, 0.44], [0.1083, 0.29], [0.1086, 0.55], [0.1088, 0.19], [0.1091, 0.41], [0.1093, 0.49], [0.1096, 0.31], [0.1098, 0.38],
  [0.1059, 0.02], [0.1029, 0.12],
  [0.1101, 0.26], [0.1103, 0.47], [0.1106, 0.36], [0.1108, 0.58], [0.1111, 0.15], [0.1113, 0.42], [0.1116, 0.3], [0.1118, 0.53],
  [0.1121, 0.39], [0.1123, 0.22], [0.1126, 0.64], [0.1128, 0.34], [0.1131, 0.45], [0.1133, 0.27], [0.1136, 0.5], [0.1138, 0.1],
  [0.1141, 0.38], [0.1143, 0.56], [0.1146, 0.31], [0.1148, 0.43], [0.1151, 0.19], [0.1153, 0.48], [0.1156, 0.36], [0.1158, 0.61],
  [0.1161, 0.28], [0.1163, 0.41], [0.1166, 0.52], [0.1168, 0.33], [0.1171, 0.24], [0.1173, 0.46], [0.1176, 0.37], [0.1178, 0.57],
  [0.1181, 0.3], [0.1183, 0.13], [0.1186, 0.44], [0.1188, 0.35], [0.1191, 0.51], [0.1193, 0.26], [0.1196, 0.4], [0.1198, 0.63],
  [0.1139, 0.05], [0.1169, 0.08],
  [0.1201, 0.35], [0.1203, 0.49], [0.1206, 0.21], [0.1208, 0.41], [0.1211, 0.58], [0.1213, 0.3], [0.1216, 0.44], [0.1218, 0.12],
  [0.1221, 0.37], [0.1223, 0.53], [0.1226, 0.27], [0.1228, 0.46], [0.1231, 0.33], [0.1233, 0.62], [0.1236, 0.4], [0.1238, 0.18],
  [0.1241, 0.5], [0.1243, 0.36], [0.1246, 0.24], [0.1248, 0.43], [0.1251, 0.56], [0.1253, 0.31], [0.1256, 0.07], [0.1258, 0.39],
  [0.1261, 0.47], [0.1263, 0.28], [0.1266, 0.6], [0.1268, 0.34], [0.1271, 0.42], [0.1273, 0.2], [0.1276, 0.52], [0.1278, 0.37],
  [0.1281, 0.45], [0.1283, 0.25], [0.1286, 0.66], [0.1288, 0.32], [0.1291, 0.48], [0.1293, 0.15], [0.1296, 0.4], [0.1298, 0.55],
  [0.1302, 0.29], [0.1305, 0.44], [0.1308, 0.36], [0.1311, 0.59], [0.1314, 0.22], [0.1317, 0.47], [0.132, 0.33], [0.1323, 0.41],
  [0.1326, 0.13], [0.1329, 0.53], [0.1332, 0.38], [0.1335, 0.27], [0.1338, 0.63], [0.1341, 0.45], [0.1344, 0.31], [0.1347, 0.5],
  [0.135, 0.19], [0.1353, 0.4], [0.1356, 0.56], [0.1359, 0.34], [0.1362, 0.43], [0.1365, 0.25], [0.1368, 0.48], [0.1371, 0.37],
  [0.1374, 0.6], [0.1377, 0.29], [0.138, 0.09], [0.1383, 0.42], [0.1386, 0.52], [0.1389, 0.33], [0.1392, 0.46], [0.1395, 0.21],
  [0.1398, 0.39], [0.1312, 0.67], [0.1357, 0.7], [0.1373, 0.16],
  [0.1403, 0.45], [0.1406, 0.31], [0.141, 0.57], [0.1413, 0.38], [0.1417, 0.17], [0.142, 0.49], [0.1424, 0.34], [0.1427, 0.63],
  [0.1431, 0.42], [0.1434, 0.26], [0.1438, 0.53], [0.1441, 0.37], [0.1445, 0.46], [0.1448, 0.22], [0.1452, 0.6], [0.1455, 0.4],
  [0.1459, 0.3], [0.1462, 0.51], [0.1466, 0.11], [0.1469, 0.44], [0.1473, 0.35], [0.1476, 0.67], [0.148, 0.28], [0.1483, 0.48],
  [0.1487, 0.39], [0.149, 0.55], [0.1494, 0.24], [0.1497, 0.43], [0.1444, 0.71], [0.1486, 0.07],
  [0.1502, 0.36], [0.1506, 0.52], [0.151, 0.29], [0.1514, 0.44], [0.1518, 0.62], [0.1522, 0.19], [0.1526, 0.4], [0.153, 0.48],
  [0.1534, 0.33], [0.1538, 0.57], [0.1542, 0.25], [0.1546, 0.45], [0.155, 0.38], [0.1554, 0.66], [0.1558, 0.14], [0.1562, 0.5],
  [0.1566, 0.31], [0.157, 0.43], [0.1574, 0.55], [0.1578, 0.27], [0.1582, 0.47], [0.1586, 0.36], [0.159, 0.6], [0.1594, 0.22],
  [0.1598, 0.41], [0.1548, 0.72],
  [0.1603, 0.46], [0.1608, 0.32], [0.1612, 0.58], [0.1617, 0.39], [0.1621, 0.21], [0.1626, 0.51], [0.163, 0.35], [0.1635, 0.63],
  [0.1639, 0.43], [0.1644, 0.26], [0.1648, 0.54], [0.1653, 0.38], [0.1657, 0.12], [0.1662, 0.48], [0.1666, 0.3], [0.1671, 0.6],
  [0.1675, 0.41], [0.168, 0.23], [0.1684, 0.52], [0.1689, 0.36], [0.1693, 0.45], [0.1698, 0.68],
  [0.1703, 0.39], [0.1708, 0.53], [0.1713, 0.28], [0.1718, 0.46], [0.1723, 0.61], [0.1728, 0.34], [0.1733, 0.18], [0.1738, 0.49],
  [0.1743, 0.4], [0.1748, 0.57], [0.1753, 0.3], [0.1758, 0.44], [0.1763, 0.65], [0.1768, 0.24], [0.1773, 0.51], [0.1778, 0.37],
  [0.1783, 0.47], [0.1788, 0.32], [0.1793, 0.58], [0.1798, 0.42],
  [0.1804, 0.5], [0.1811, 0.35], [0.1818, 0.59], [0.1825, 0.27], [0.1832, 0.45], [0.1839, 0.38], [0.1846, 0.53], [0.1853, 0.31],
  [0.186, 0.47], [0.1867, 0.62], [0.1874, 0.41], [0.1881, 0.29], [0.1888, 0.55], [0.1895, 0.44], [0.1902, 0.36], [0.1909, 0.51],
  [0.1921, 0.42], [0.1934, 0.55], [0.1946, 0.33], [0.1958, 0.48], [0.1971, 0.6], [0.1985, 0.38], [0.1997, 0.52], [0.2012, 0.45],
  [0.2028, 0.57], [0.2041, 0.41],
  [0.0121, 0.45], [0.0138, 0.37], [0.0152, 0.52], [0.0166, 0.41], [0.0179, 0.3], [0.0191, 0.57],
];

const brGrey: Pt[] = [
  [0.0135, 0.724], [0.0551, 0.861], [0.0606, 0.81], [0.069, 0.734], [0.0836, 0.746], [0.0776, 0.681], [0.0782, 0.65], [0.0793, 0.631],
  [0.081, 0.61], [0.0446, 0.657], [0.045, 0.614], [0.0679, 0.537], [0.0654, 0.443], [0.0711, 0.266], [0.0943, 0.591], [0.0949, 0.47],
  [0.1029, 0.524], [0.1044, 0.646], [0.1029, 0.327], [0.1041, 0.224], [0.1005, 0.1], [0.111, 0.396], [0.1114, 0.61], [0.114, 0.687],
  [0.1155, 0.491], [0.1179, 0.629], [0.1191, 0.397], [0.1209, 0.499], [0.123, 0.75], [0.1232, 0.667], [0.1279, 0.744], [0.1322, 0.736],
  [0.1286, 0.536], [0.1371, 0.601], [0.1382, 0.701], [0.1436, 0.631], [0.1474, 0.631], [0.15, 0.649], [0.1494, 0.756], [0.1468, 0.596],
  [0.1485, 0.574], [0.1511, 0.521], [0.1506, 0.484], [0.1449, 0.453], [0.1479, 0.307], [0.1461, 0.256], [0.1504, 0.229], [0.1532, 0.177],
  [0.1374, 0.206], [0.1436, 0.139], [0.1354, 0.064], [0.15, 0.097], [0.1168, 0.12], [0.1607, 0.371], [0.1629, 0.289], [0.1622, 0.23],
  [0.1671, 0.249], [0.1668, 0.214], [0.1661, 0.621], [0.1693, 0.617], [0.1725, 0.657], [0.1689, 0.581], [0.1725, 0.589], [0.1742, 0.371],
  [0.1751, 0.317], [0.1736, 0.293], [0.18, 0.474], [0.1826, 0.636], [0.1843, 0.584], [0.1836, 0.557], [0.1847, 0.527], [0.1864, 0.453],
  [0.1836, 0.35], [0.1843, 0.316], [0.189, 0.314], [0.1886, 0.179], [0.1939, 0.449], [0.1967, 0.407], [0.1971, 0.567], [0.201, 0.584],
  [0.201, 0.681], [0.2036, 0.546], [0.2046, 0.489], [0.204, 0.396], [0.2031, 0.339], [0.2083, 0.367], [0.2074, 0.26], [0.2089, 0.267],
  [0.2127, 0.296], [0.2111, 0.65], [0.2181, 0.653], [0.2192, 0.684], [0.2222, 0.724], [0.2111, 0.499], [0.2117, 0.07], [0.2154, 0.017],
  [0.1939, 0.039], [0.2179, 0.267], [0.2181, 0.224], [0.2192, 0.213], [0.2222, 0.336], [0.2261, 0.324], [0.2271, 0.467], [0.2308, 0.577],
  [0.2319, 0.243], [0.2336, 0.317], [0.2374, 0.463], [0.2426, 0.45], [0.2458, 0.563], [0.2496, 0.674], [0.2529, 0.771], [0.2443, 0.253],
  [0.2556, 0.193], [0.2582, 0.329], [0.2593, 0.267], [0.2642, 0.457], [0.2668, 0.349], [0.2651, 0.26], [0.2721, 0.21], [0.2743, 0.213],
  [0.2779, 0.46], [0.2811, 0.243], [0.2529, 0.321],
];
const brCore: Pt[] = [];

// ---------- layout ----------
const PLOT_W = 466;
const COL_LEFT = [134, 693.5];
const ROW_TOP = [23.3, 304.3, 584.3];
const ROW_H = [234, 232.7, 232.7];
const ML = 80;
const MT = 20;
const MB = 50;
const MR = 46;

const AXIS_LINE = { stroke: '#000', strokeWidth: 2.6, strokeLinecap: 'square' as const };
const TICK_LINE = { stroke: '#000', strokeWidth: 1.3 };
const TICK_FS = 28;

const fmtX = (v: number) => v.toFixed(2);
const fmtY = (v: number) => v.toFixed(1).replace('-', '\u2212');

const toObj = (a: Pt[]) => a.map(([x, y]) => ({ x, y }));

const XTick = (p: any) => (
  <text x={p.x} y={p.y} dy="0.71em" textAnchor="middle" fontFamily={FONT} fontSize={TICK_FS} fill="#000">
    {fmtX(p.payload.value)}
  </text>
);
const YTick = (p: any) => (
  <text x={p.x} y={p.y} dy="0.36em" textAnchor="end" fontFamily={FONT} fontSize={TICK_FS} fill="#000">
    {fmtY(p.payload.value)}
  </text>
);

const makeDot = (alpha: number) => (p: any) => (
  <circle cx={p.cx} cy={p.cy} r={3.3} fill="#808080" fillOpacity={alpha} stroke="#808080" strokeOpacity={alpha} strokeWidth={1} />
);
const GreyDot = makeDot(0.3);
const RedDot = (p: any) => (
  <circle cx={p.cx} cy={p.cy} r={6.5} fill="#ff0000" stroke="#000" strokeWidth={1.1} />
);

interface PanelSpec {
  col: number;
  row: number;
  xDomain: [number, number];
  xTicks: number[];
  yDomain: [number, number];
  yTicks: number[];
  grey: Pt[];
  core: Pt[];
  coreAlpha: number;
  median: Pt[];
  label: string;
}

const panels: PanelSpec[] = [
  { col: 0, row: 0, xDomain: [0, 0.05], xTicks: xTicks05, yDomain: [-1, 1], yTicks: yTicksA, grey: tlGrey, core: tlCore, coreAlpha: 0.3, median: tlMed, label: panelLabels[0] },
  { col: 1, row: 0, xDomain: [0, 0.05], xTicks: xTicks05, yDomain: [-0.5, 1], yTicks: yTicksB, grey: trGrey, core: trCore, coreAlpha: 0.3, median: trMed, label: panelLabels[1] },
  { col: 0, row: 1, xDomain: [0, 0.05], xTicks: xTicks05, yDomain: [-0.3, 1], yTicks: yTicksC, grey: mlGrey, core: mlCore, coreAlpha: 0.42, median: mlMed, label: panelLabels[2] },
  { col: 1, row: 1, xDomain: [0, 0.12], xTicks: xTicks12, yDomain: [-0.3, 1], yTicks: yTicksC, grey: mrGrey, core: mrCore, coreAlpha: 0.6, median: mrMed, label: panelLabels[3] },
  { col: 0, row: 2, xDomain: [0, 0.25], xTicks: xTicks25, yDomain: [-0.3, 1], yTicks: yTicksC, grey: blGrey, core: blCore, coreAlpha: 0.6, median: blMed, label: panelLabels[4] },
  { col: 1, row: 2, xDomain: [0, 0.3], xTicks: xTicks30, yDomain: [0, 1], yTicks: yTicksC, grey: brGrey, core: brCore, coreAlpha: 0.3, median: brMed, label: panelLabels[5] },
];

function Panel({ spec }: { spec: PanelSpec }) {
  const left = COL_LEFT[spec.col];
  const top = ROW_TOP[spec.row];
  const h = ROW_H[spec.row];
  const CoreDot = makeDot(spec.coreAlpha);
  return (
    <div style={{ position: 'absolute', left: left - ML, top: top - MT }}>
      <ScatterChart width={PLOT_W + ML + MR} height={h + MT + MB} margin={{ top: 10, right: 0, bottom: 0, left: 0 }}>
        <XAxis xAxisId="b" type="number" dataKey="x" domain={spec.xDomain} ticks={spec.xTicks} interval={0} allowDataOverflow
          height={MB} tickSize={-9} tickMargin={20} tick={<XTick />} axisLine={AXIS_LINE} tickLine={TICK_LINE} />
        <XAxis xAxisId="t" orientation="top" type="number" dataKey="x" domain={spec.xDomain} ticks={spec.xTicks} interval={0} allowDataOverflow
          height={10} tickSize={-9} tick={false} axisLine={AXIS_LINE} tickLine={TICK_LINE} />
        <YAxis yAxisId="l" type="number" dataKey="y" domain={spec.yDomain} ticks={spec.yTicks} interval={0} allowDataOverflow
          width={ML} tickSize={-9} tickMargin={15} tick={<YTick />} axisLine={AXIS_LINE} tickLine={TICK_LINE} />
        <YAxis yAxisId="r" orientation="right" type="number" dataKey="y" domain={spec.yDomain} ticks={spec.yTicks} interval={0} allowDataOverflow
          width={MR} tickSize={-9} tick={false} axisLine={AXIS_LINE} tickLine={TICK_LINE} />
        <Scatter data={toObj(spec.grey)} xAxisId="b" yAxisId="l" shape={GreyDot} isAnimationActive={false} />
        <Scatter data={toObj(spec.core)} xAxisId="b" yAxisId="l" shape={CoreDot} isAnimationActive={false} />
        <Scatter data={toObj(spec.median)} xAxisId="t" yAxisId="r" shape={RedDot} isAnimationActive={false}
          line={{ stroke: '#ff0000', strokeWidth: 2.2 }} lineType="joint" />
      </ScatterChart>
    </div>
  );
}

function PanelLabel({ text, x, y }: { text: string; x: number; y: number }) {
  const [a, sub, b] = text.split('|');
  return (
    <text x={x} y={y} fontFamily={FONT} fontSize={28} fill="#000">
      {a}
      <tspan fontSize={20} fontStyle="italic" dy={5}>{sub}</tspan>
      <tspan dy={-5}>{b}</tspan>
    </text>
  );
}

export default function App() {
  return (
    <div style={{ position: 'absolute', left: 0, top: 0, width: 1200, height: 904, background: '#fff', overflow: 'hidden' }}>
      {panels.map((p, i) => <Panel key={i} spec={p} />)}
      <svg width={1200} height={904} style={{ position: 'absolute', left: 0, top: 0, pointerEvents: 'none' }}>
        {panels.map((p, i) => (
          <PanelLabel key={i} text={p.label} x={COL_LEFT[p.col] + 256} y={ROW_TOP[p.row] + 58.4} />
        ))}
        {[0, 1, 2].map((r) => {
          const cy = ROW_TOP[r] + ROW_H[r] / 2;
          return (
            <text key={r} x={46} y={cy} transform={`rotate(-90 46 ${cy})`} textAnchor="middle" fontFamily={FONT} fontSize={38} fill="#000">
              log {'\u2133'}/L<tspan fontSize={27} fontStyle="italic" dy={7}>V</tspan>
            </text>
          );
        })}
        {[0, 1].map((c) => (
          <text key={c} x={COL_LEFT[c] + PLOT_W / 2 + 3} y={890.7} textAnchor="middle" fontFamily={FONT} fontSize={37} fill="#000">
            Redshift
          </text>
        ))}
      </svg>
    </div>
  );
}
